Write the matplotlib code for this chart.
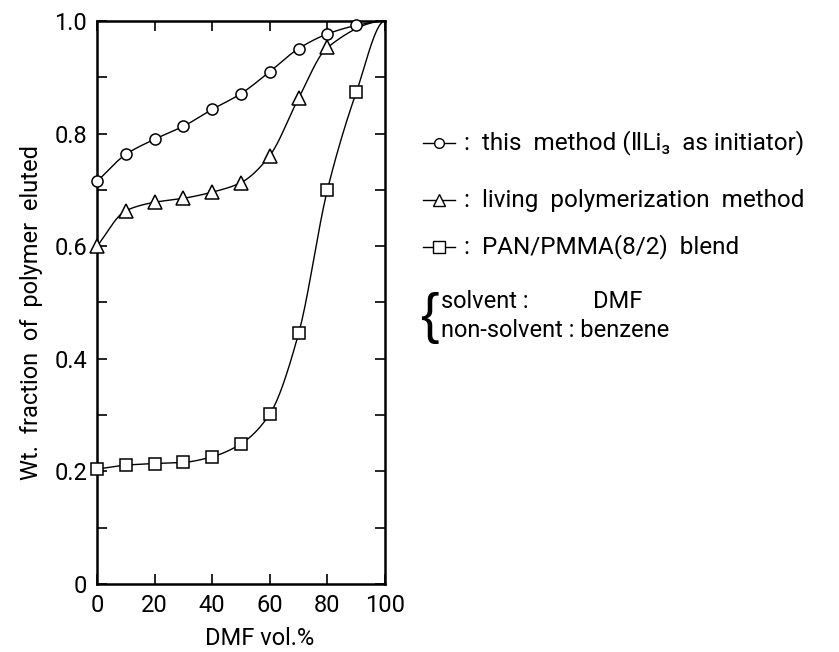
import numpy as np
import matplotlib
matplotlib.use('Agg')
import matplotlib.pyplot as plt
from matplotlib.lines import Line2D

plt.rcParams['font.family'] = ['Roboto', 'DejaVu Sans']

# dane (DMF vol.% -> frakcja wyeluowana)
dmf = [0, 10, 20, 30, 40, 50, 60, 70, 80, 90, 100]
this_method = [0.715, 0.763, 0.790, 0.813, 0.843, 0.871, 0.910, 0.951, 0.977, 0.992, 1.0]

dmf_living = [0, 10, 20, 30, 40, 50, 60, 70, 80, 100]
living = [0.600, 0.663, 0.678, 0.685, 0.696, 0.713, 0.761, 0.863, 0.953, 1.0]

dmf_blend = [0, 10, 20, 30, 40, 50, 60, 70, 80, 90, 100]
blend = [0.204, 0.211, 0.214, 0.216, 0.226, 0.249, 0.302, 0.445, 0.700, 0.873, 1.0]

x_ticks = [0, 20, 40, 60, 80, 100]
y_ticks = [0, 0.2, 0.4, 0.6, 0.8, 1.0]
y_tick_labels = ['0', '0.2', '0.4', '0.6', '0.8', '1.0']

labels = [':  this  method (\u2161Li\u2083  as initiator)',
          ':  living  polymerization  method',
          ':  PAN/PMMA(8/2)  blend']
markers = ['o', '^', 's']


def smooth(x, y, n=300):
    # gładka krzywa przez punkty (monotoniczny Hermite), płasko przy 100%
    x = np.asarray(x, float)
    y = np.asarray(y, float)
    h = np.diff(x)
    d = np.diff(y) / h
    m = np.zeros_like(y)
    m[0] = d[0]
    m[-1] = 0
    for i in range(1, len(y) - 1):
        if d[i - 1] * d[i] <= 0:
            m[i] = 0
        else:
            w1 = 2 * h[i] + h[i - 1]
            w2 = h[i] + 2 * h[i - 1]
            m[i] = (w1 + w2) / (w1 / d[i - 1] + w2 / d[i])
    xs = np.linspace(x[0], x[-1], n)
    k = np.clip(np.searchsorted(x, xs) - 1, 0, len(x) - 2)
    t = (xs - x[k]) / h[k]
    h00 = 2 * t**3 - 3 * t**2 + 1
    h10 = t**3 - 2 * t**2 + t
    h01 = -2 * t**3 + 3 * t**2
    h11 = t**3 - t**2
    ys = h00 * y[k] + h10 * h[k] * m[k] + h01 * y[k + 1] + h11 * h[k] * m[k + 1]
    return xs, ys


fig = plt.figure(figsize=(8.39, 6.52), dpi=100)
ax = fig.add_axes([0.1156, 0.1043, 0.3433, 0.8635])

series = [(dmf, this_method), (dmf_living, living), (dmf_blend, blend)]
for (xx, yy), mk in zip(series, markers):
    xs, ys = smooth(xx, yy)
    ax.plot(xs, ys, color='black', lw=1.0, zorder=2)
    ax.plot(xx[:-1], yy[:-1], linestyle='none', marker=mk,
            ms=9.5 if mk == '^' else 8,
            mfc='white', mec='black', mew=1.1, zorder=3, clip_on=False)

ax.set_xlim(0, 100)
ax.set_ylim(0, 1.0)
ax.set_xticks(x_ticks)
ax.set_xticklabels([str(v) for v in x_ticks])
ax.set_yticks(y_ticks)
ax.set_yticklabels(y_tick_labels)
ax.set_yticks(np.arange(0.1, 1.0, 0.2), minor=True)
ax.tick_params(which='both', direction='in', top=True, right=True,
               labelsize=17, width=1.2, pad=7, length=7)
for s in ax.spines.values():
    s.set_linewidth(1.8)

fig.text(0.038, 0.52, 'Wt.  fraction  of  polymer  eluted', rotation=90,
         ha='center', va='center', fontsize=17)
fig.text(0.31, 0.02, 'DMF vol.%', ha='center', va='center', fontsize=17)

# legenda ręczna
leg_y = [1 - 143 / 652, 1 - 200 / 652, 1 - 247 / 652]
for yy, mk, lab in zip(leg_y, markers, labels):
    fig.add_artist(Line2D([423 / 839, 455 / 839], [yy, yy], color='black', lw=1.0))
    fig.add_artist(Line2D([439 / 839], [yy], marker=mk, ms=7 if mk == 'o' else 8.5,
                          mfc='white', mec='black', mew=1.0))
    fig.text(464 / 839, yy, lab, ha='left', va='center', fontsize=17.5)

fig.text(420 / 839, 1 - 318 / 652, '{', ha='left', va='center', fontsize=40,
         family='Liberation Sans')
fig.text(441 / 839, 1 - 302 / 652, 'solvent :', ha='left', va='center', fontsize=17)
fig.text(593 / 839, 1 - 302 / 652, 'DMF', ha='left', va='center', fontsize=17)
fig.text(441 / 839, 1 - 331 / 652, 'non-solvent : benzene', ha='left', va='center',
         fontsize=17)

fig.savefig('out.png', dpi=100)
